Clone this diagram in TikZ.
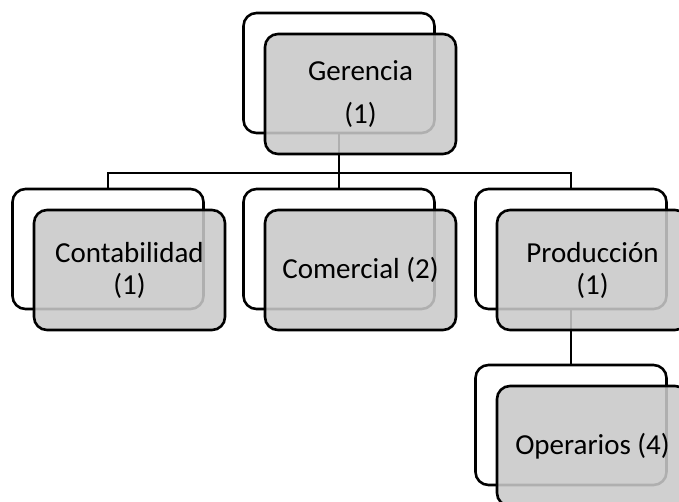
\documentclass[tikz,border=0pt]{standalone}
\usepackage{fontspec}
\setmainfont{Carlito}
\definecolor{boxgray}{RGB}{201,201,201}
\tikzset{
  wbox/.style={draw=black, fill=white, line width=2.6pt, rounded corners=13pt,
    minimum width=191pt, minimum height=120pt, inner sep=0pt, outer sep=0pt},
  gbox/.style={draw=black, fill=boxgray, fill opacity=0.875, text opacity=1,
    line width=2.6pt, rounded corners=13pt,
    minimum width=191pt, minimum height=120pt, inner sep=0pt, outer sep=0pt,
    align=center, font=\fontsize{29}{32}\selectfont},
  link/.style={draw=black, line width=2.6pt}
}
\begin{document}
\begin{tikzpicture}[x=1pt, y=-1pt]
\useasboundingbox (0,0) rectangle (679,501);
\clip (0,0) rectangle (679,501);
% back (white) boxes
\node[wbox] (gw) at (339,73) {};
\node[wbox] (cw) at (108,249) {};
\node[wbox] (mw) at (339,249) {};
\node[wbox] (pw) at (571,249) {};
\node[wbox] (ow) at (571,425) {};
% connectors
\coordinate (bar) at (339,173);
\draw[link] (gw.south) -- (bar);
\draw[link] (cw.north) |- (bar) -| (pw.north);
\draw[link] (bar) -- (mw.north);
\draw[link] (pw.south) -- (ow.north);
% front (gray) boxes
\node[gbox] (gg) at (360.5,94) {Gerencia\\[11pt](1)};
\node[gbox] (cg) at (129.5,270) {Contabilidad\\(1)};
\node[gbox] (mg) at (360.5,270) {Comercial (2)};
\node[gbox] (pg) at (592.5,270) {Producción\\(1)};
\node[gbox] (og) at (592.5,446) {Operarios (4)};
\end{tikzpicture}
\end{document}
